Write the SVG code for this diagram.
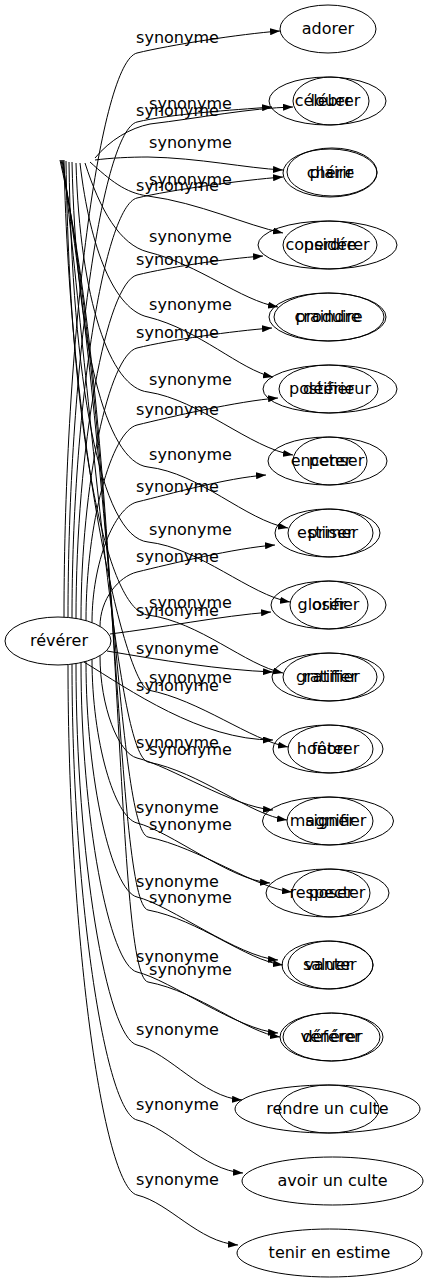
<svg xmlns="http://www.w3.org/2000/svg" width="425" height="1283" viewBox="0 0 425 1283">
<style>
.n ellipse{fill:none;stroke:#000;stroke-width:1}
text{font-family:"DejaVu Sans",sans-serif;font-size:16px;fill:#000;text-anchor:middle}
.e path{fill:none;stroke:#000;stroke-width:1}
</style>
<defs><marker id="ah" viewBox="0 0 10 7" refX="10" refY="3.5" markerWidth="10" markerHeight="7" orient="auto" markerUnits="userSpaceOnUse"><path d="M0,0L10,3.5L0,7z" fill="#000"/></marker></defs>
<rect width="425" height="1283" fill="#fff"/>
<g id="edges" class="e">
<g marker-end="url(#ah)">
<path d="M64,617.2 C64,335 100.5,62 137,53 C170,45 240,34 280,31"/>
<path d="M68,617.4 C68,369.7 102.5,130.6 137,122 C170,114 232,110 272,107"/>
<path d="M72,617.9 C72,408 104.5,206.1 137,198 C170,190 243,180 283,177"/>
<path d="M76,618.4 C76,446.7 106.5,282.6 137,275 C170,267 223,259 263,256"/>
<path d="M81,619.4 C81,483.7 109,355 137,348 C170,340 232,331 272,328"/>
<path d="M86,620.6 C86,522.8 111.5,431.4 137,425 C170,417 238,401 278,398"/>
<path d="M92,622.6 C92,562.3 114.5,507.6 137,502 C170,494 226,478 266,475"/>
<path d="M100,626.4 C100,599.2 118.5,576.6 137,572 C170,564 235,548 275,545"/>
<path d="M110,634 C160,628 220,616 271,612"/>
<path d="M107,651 C160,660 220,670 273,672"/>
<path d="M84,662 C130,690 200,740 273,740"/>
<path d="M100,655.6 C100,706.8 118.5,753.4 137,758 C170,766 233,807 273,810"/>
<path d="M92,659.4 C92,741.2 114.5,817.4 137,823 C170,831 230,880 270,883"/>
<path d="M86,661.4 C86,779.2 111.5,890.6 137,897 C170,905 238,957 278,960"/>
<path d="M81,662.6 C81,817.3 109,965 137,972 C170,980 238,1030 278,1033"/>
<path d="M76,663.6 C76,854.3 106.5,1037.4 137,1045 C170,1053 202,1097 242,1100"/>
<path d="M72,664.1 C72,892 104.5,1111.9 137,1120 C170,1128 203,1170 243,1173"/>
<path d="M68,664.6 C68,929.8 102.5,1186.4 137,1195 C170,1203 198,1242 238,1245"/>
<path d="M95,158 C110,140 130,128 150,124 C200,118 250,108 293,107"/>
<path d="M95,160 C110,158 130,157 148,157 C200,158 245,168 283,170"/>
<path d="M90,162 C110,180 125,193 148,196 C200,203 245,225 283,233"/>
<path d="M85,163 C100,210 120,245 148,252 C200,265 240,300 278,307"/>
<path d="M80,163 C90,250 115,310 148,317 C200,330 240,370 273,377"/>
<path d="M76,163 C80,300 110,388 148,392 C200,400 250,448 293,455"/>
<path d="M72,162 C76,340 105,462 148,467 C200,473 245,520 288,528"/>
<path d="M69,162 C72,380 100,537 148,542 C200,548 250,595 290,602"/>
<path d="M66,161 C70,450 110,612 148,615 C200,622 245,665 283,673"/>
<path d="M64,160 C70,450 125,680 148,690 C200,700 250,740 288,747"/>
<path d="M63,160 C95,450 118,755 148,762 C200,772 250,815 287,820"/>
<path d="M62,160 C110,450 118,830 148,837 C200,848 255,888 292,892"/>
<path d="M61,160 C118,450 116,903 148,910 C200,920 245,960 283,965"/>
<path d="M60,160 C125,450 114,975 148,982 C200,992 245,1032 280,1037"/>
</g>
<g id="labels">
<text x="177.5" y="43">synonyme</text>
<text x="177.5" y="116">synonyme</text>
<text x="177.5" y="191">synonyme</text>
<text x="177.5" y="265">synonyme</text>
<text x="177.5" y="338">synonyme</text>
<text x="177.5" y="415">synonyme</text>
<text x="177.5" y="492">synonyme</text>
<text x="177.5" y="562">synonyme</text>
<text x="177.5" y="616">synonyme</text>
<text x="177.5" y="654">synonyme</text>
<text x="177.5" y="691">synonyme</text>
<text x="177.5" y="748">synonyme</text>
<text x="177.5" y="813">synonyme</text>
<text x="177.5" y="887">synonyme</text>
<text x="177.5" y="962">synonyme</text>
<text x="177.5" y="1035">synonyme</text>
<text x="177.5" y="1110">synonyme</text>
<text x="177.5" y="1185">synonyme</text>
<text x="190.5" y="109">synonyme</text>
<text x="190.5" y="148">synonyme</text>
<text x="190.5" y="185">synonyme</text>
<text x="190.5" y="242">synonyme</text>
<text x="190.5" y="310">synonyme</text>
<text x="190.5" y="385">synonyme</text>
<text x="190.5" y="460">synonyme</text>
<text x="190.5" y="535">synonyme</text>
<text x="190.5" y="608">synonyme</text>
<text x="190.5" y="683">synonyme</text>
<text x="190.5" y="755">synonyme</text>
<text x="190.5" y="830">synonyme</text>
<text x="190.5" y="903">synonyme</text>
<text x="190.5" y="975">synonyme</text>
</g>
</g>
<g id="reverer" class="n"><ellipse cx="58" cy="641" rx="53" ry="24"/><text x="59" y="646">révérer</text></g>
<g id="adorer" class="n"><ellipse cx="328" cy="29" rx="48" ry="24"/><text x="328" y="34">adorer</text></g>
<g id="celebrer" class="n"><ellipse cx="327.5" cy="101" rx="58.5" ry="24"/><text x="327.5" y="106">célébrer</text></g>
<g id="louer" class="n"><ellipse cx="331" cy="101" rx="38" ry="24"/><text x="331" y="106">louer</text></g>
<g id="cherir" class="n"><ellipse cx="330" cy="173" rx="47" ry="24"/><text x="330" y="178">chérir</text></g>
<g id="plaire" class="n"><ellipse cx="332" cy="172" rx="45" ry="24"/><text x="332" y="178">plaire</text></g>
<g id="considerer" class="n"><ellipse cx="327.5" cy="245" rx="69.5" ry="24"/><text x="327.5" y="250">considérer</text></g>
<g id="perdre" class="n"><ellipse cx="330" cy="245" rx="47" ry="24"/><text x="330" y="250">perdre</text></g>
<g id="craindre" class="n"><ellipse cx="327.5" cy="317" rx="58.5" ry="24"/><text x="327.5" y="322">craindre</text></g>
<g id="produire" class="n"><ellipse cx="329" cy="317" rx="55" ry="24"/><text x="329" y="322">produire</text></g>
<g id="deifier" class="n"><ellipse cx="328.5" cy="389" rx="49.5" ry="24"/><text x="328.5" y="394">déifier</text></g>
<g id="posterieur" class="n"><ellipse cx="330" cy="389" rx="67" ry="24"/><text x="330" y="394">postérieur</text></g>
<g id="encenser" class="n"><ellipse cx="327.5" cy="461" rx="59.5" ry="24"/><text x="327.5" y="466">encenser</text></g>
<g id="peter" class="n"><ellipse cx="330" cy="461" rx="37" ry="24"/><text x="330" y="466">peter</text></g>
<g id="estimer" class="n"><ellipse cx="327.5" cy="533" rx="52.5" ry="24"/><text x="327.5" y="538">estimer</text></g>
<g id="priser" class="n"><ellipse cx="330.5" cy="533" rx="42.5" ry="24"/><text x="330.5" y="538">priser</text></g>
<g id="glorifier" class="n"><ellipse cx="328.5" cy="605" rx="57.5" ry="24"/><text x="328.5" y="610">glorifier</text></g>
<g id="oser" class="n"><ellipse cx="329" cy="605" rx="39" ry="24"/><text x="329" y="610">oser</text></g>
<g id="gratifier" class="n"><ellipse cx="328" cy="677" rx="56" ry="24"/><text x="328" y="682">gratifier</text></g>
<g id="ratifier" class="n"><ellipse cx="330" cy="677" rx="47" ry="24"/><text x="330" y="682">ratifier</text></g>
<g id="honorer" class="n"><ellipse cx="328" cy="749" rx="55" ry="24"/><text x="328" y="754">honorer</text></g>
<g id="feter" class="n"><ellipse cx="330.5" cy="749" rx="42.5" ry="24"/><text x="330.5" y="754">fêter</text></g>
<g id="magnifier" class="n"><ellipse cx="328" cy="821" rx="65.5" ry="24"/><text x="328" y="826">magnifier</text></g>
<g id="signer" class="n"><ellipse cx="330" cy="821" rx="43" ry="24"/><text x="330" y="826">signer</text></g>
<g id="respecter" class="n"><ellipse cx="327.5" cy="893" rx="61.5" ry="24"/><text x="327.5" y="898">respecter</text></g>
<g id="poser" class="n"><ellipse cx="331" cy="893" rx="39" ry="24"/><text x="331" y="898">poser</text></g>
<g id="saluer" class="n"><ellipse cx="327.5" cy="965" rx="45.5" ry="24"/><text x="327.5" y="970">saluer</text></g>
<g id="vanter" class="n"><ellipse cx="330.5" cy="965" rx="42.5" ry="24"/><text x="330.5" y="970">vanter</text></g>
<g id="venerer" class="n"><ellipse cx="331.5" cy="1037" rx="51.5" ry="24"/><text x="331.5" y="1042">vénérer</text></g>
<g id="deferer" class="n"><ellipse cx="331.5" cy="1037" rx="48.5" ry="24"/><text x="331.5" y="1042">déférer</text></g>
<g id="rendre" class="n"><ellipse cx="327.5" cy="1109" rx="92.5" ry="24"/><text x="327.5" y="1114">rendre un culte</text></g>
<g id="blank16" class="n"><ellipse cx="329" cy="1109" rx="50" ry="24"/></g>
<g id="avoir" class="n"><ellipse cx="332.5" cy="1181" rx="90.5" ry="24"/><text x="332.5" y="1186">avoir un culte</text></g>
<g id="tenir" class="n"><ellipse cx="329.5" cy="1253" rx="92.5" ry="24"/><text x="329.5" y="1258">tenir en estime</text></g>
</svg>
